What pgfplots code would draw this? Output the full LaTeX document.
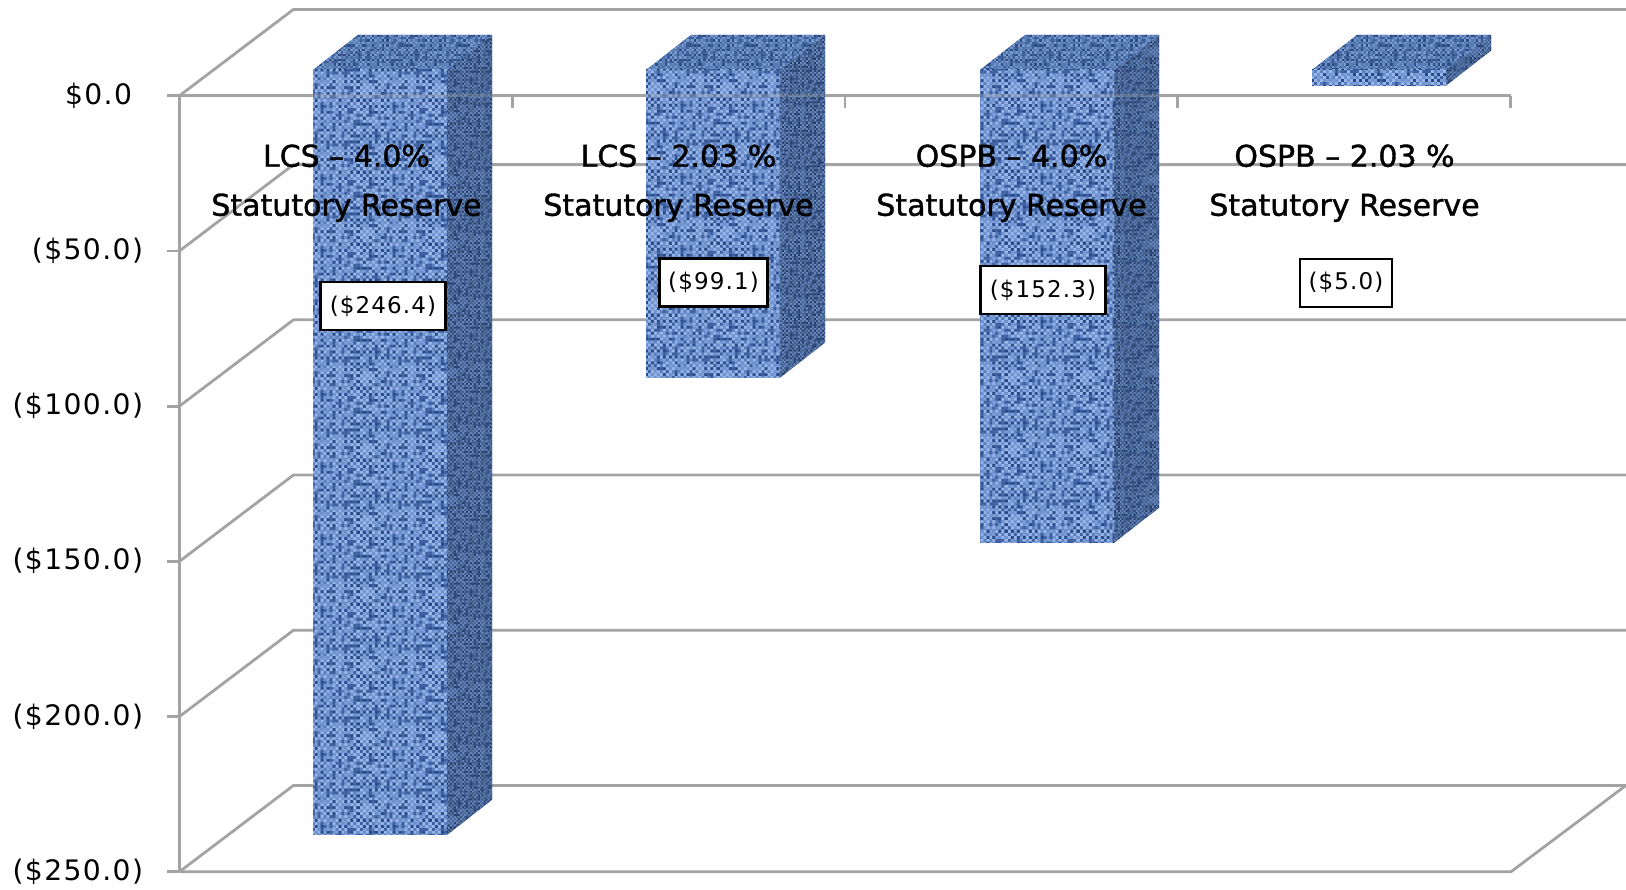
\documentclass[border=0pt]{standalone}
\usepackage{fontspec}
\usepackage{pgfplots}
\pgfplotsset{compat=1.18}
\usetikzlibrary{patterns}
\setmainfont{DejaVu Sans}
\newfontfamily\spaced[LetterSpace=5]{DejaVu Sans}
\newfontfamily\heavy[FakeBold=1.2]{DejaVu Sans}
\definecolor{gridgray}{HTML}{A3A3A3}
\definecolor{basefront}{HTML}{6787C2}
\definecolor{baseside}{HTML}{3F5C90}
\definecolor{basetop}{HTML}{4C6EA8}
% woven-cloth tiles for the three visible bar faces
\newcommand\declareweave[9]{% name, cell size (pt), dark a/b, mid a/b, light a/b, cells per tile
  \definecolor{#1da}{HTML}{#3}\definecolor{#1db}{HTML}{#4}%
  \definecolor{#1ma}{HTML}{#5}\definecolor{#1mb}{HTML}{#6}%
  \definecolor{#1la}{HTML}{#7}\definecolor{#1lb}{HTML}{#8}%
  \pgfmathtruncatemacro\lastcell{#9-1}%
  \edef\cellrange{0,...,\lastcell}%
  \expandafter\declareweavetile\expandafter{\cellrange}{#1}{#2}{#9}}
\newcommand\declareweavetile[4]{%
  \pgfdeclarepatterninherentlycolored{#2}{\pgfpointorigin}%
    {\pgfpoint{#4*#3pt}{#4*#3pt}}{\pgfpoint{#4*#3pt}{#4*#3pt}}{%
    \foreach \i in {#1}{\foreach \j in {#1}{%
      \pgfmathtruncatemacro\k{mod(\i,2)+mod(\j,2)}%
      \pgfmathtruncatemacro\h{mod(mod(\i*\i*3+\j*7,17)*mod(\j*\j*5+\i*11,13)+\i*\j,11)}%
      \ifnum\k=2 \ifnum\h<7 \def\c{#2da}\else\def\c{#2mb}\fi
      \else\ifnum\k=1 \ifnum\h<6 \def\c{#2la}\else\ifnum\h<9 \def\c{#2lb}\else\def\c{#2db}\fi\fi
      \else\ifnum\h<3 \def\c{#2db}\else\ifnum\h<7 \def\c{#2ma}\else\def\c{#2mb}\fi\fi\fi\fi
      \pgfsetfillcolor{\c}%
      \pgfpathrectangle{\pgfpoint{\i*#3pt}{\j*#3pt}}{\pgfpoint{#3pt}{#3pt}}%
      \pgfusepath{fill}}}}}
\declareweave{clothfront}{1.5}{284A8A}{3F60A0}{5C7FBE}{6E91CF}{98B6E8}{7EA0D8}{24}
\declareweave{clothside}{1}{253C68}{314C7E}{3C5A8C}{46659A}{6A88BA}{557499}{32}
\declareweave{clothtop}{1.2}{2F4C82}{3D5E96}{4B6EA8}{557AB3}{7597CB}{5F84BB}{24}
% a bar: front-left x (px), value
\newcommand\threedbar[2]{%
  \pgfmathsetmacro\xa{#1}\pgfmathsetmacro\xb{#1+134}%
  \pgfmathsetmacro\xc{#1+45}\pgfmathsetmacro\xd{#1+179}%
  \pgfmathsetmacro\yf{#2+8.28}\pgfmathsetmacro\yb{#2+19.56}%
  \addplot[draw=none,fill=baseside] coordinates {(\xb,8.28)(\xd,19.56)(\xd,\yb)(\xb,\yf)} --cycle;
  \addplot[draw=none,pattern=clothside] coordinates {(\xb,8.28)(\xd,19.56)(\xd,\yb)(\xb,\yf)} --cycle;
  \addplot[draw=none,fill=basetop] coordinates {(\xa,8.28)(\xb,8.28)(\xd,19.56)(\xc,19.56)} --cycle;
  \addplot[draw=none,pattern=clothtop] coordinates {(\xa,8.28)(\xb,8.28)(\xd,19.56)(\xc,19.56)} --cycle;
  \addplot[draw=none,fill=basefront] coordinates {(\xa,8.28)(\xb,8.28)(\xb,\yf)(\xa,\yf)} --cycle;
  \addplot[draw=none,pattern=clothfront] coordinates {(\xa,8.28)(\xb,8.28)(\xb,\yf)(\xa,\yf)} --cycle;
}
\begin{document}
\begin{tikzpicture}
\useasboundingbox (-89.75pt,-8.65pt) rectangle (723.25pt,435.85pt);
\begin{axis}[
  scale only axis, width=665.5pt, height=388pt,
  xmin=179.5, xmax=1510.5, ymin=-250, ymax=0, clip=false,
  axis x line*=top, axis y line*=left, no markers,
  axis line style={gridgray,line width=1.4pt},
  every tick/.style={gridgray,line width=1.4pt},
  major tick length=6pt,
  xtick={179.5,512.25,845,1177.75,1510.5}, xticklabels={},
  xtick align=inside,
  ytick={0,-50,-100,-150,-200,-250},
  yticklabels={\$0.0\phantom{)},(\$50.0),(\$100.0),(\$150.0),(\$200.0),(\$250.0)},
  ytick align=outside,
  yticklabel style={font=\spaced\fontsize{14.1}{16}\selectfont,text=black,inner sep=0pt,xshift=-12pt},
]
% back wall and side wall grid
\addplot[gridgray,line width=1.4pt] coordinates {(179.5,0)(293.5,27.8)(1626,27.8)};
\addplot[gridgray,line width=1.4pt] coordinates {(179.5,-50)(293.5,-22.2)(1626,-22.2)};
\addplot[gridgray,line width=1.4pt] coordinates {(179.5,-100)(293.5,-72.2)(1626,-72.2)};
\addplot[gridgray,line width=1.4pt] coordinates {(179.5,-150)(293.5,-122.2)(1626,-122.2)};
\addplot[gridgray,line width=1.4pt] coordinates {(179.5,-200)(293.5,-172.2)(1626,-172.2)};
\addplot[gridgray,line width=1.4pt] coordinates {(179.5,-250)(293.5,-222.2)(1626,-222.2)(1511,-250)(179.5,-250)};
\threedbar{313}{-246.4}
\threedbar{646}{-99.1}
\threedbar{980}{-152.3}
\threedbar{1312}{-5.0}
\addplot[gridgray,line width=1.4pt,opacity=.35] coordinates {(179.5,0)(1510.5,0)};
\begin{scope}[every node/.style={align=center,font=\heavy\fontsize{15}{24.5}\selectfont,text=black}]
\node at (axis cs:346.5,-28.2) {LCS – 4.0\%\\Statutory Reserve};
\node at (axis cs:678.5,-28.2) {LCS – 2.03 \%\\Statutory Reserve};
\node at (axis cs:1011.5,-28.2) {OSPB – 4.0\%\\Statutory Reserve};
\node at (axis cs:1344.5,-28.2) {OSPB – 2.03 \%\\Statutory Reserve};
\end{scope}
\begin{scope}[every node/.style={draw=black,line width=1.1pt,fill=white,inner sep=0pt,minimum height=24pt,font=\spaced\fontsize{11.5}{14}\selectfont,text=black}]
\node[minimum width=62.5pt] at (axis cs:383,-67.75) {(\$246.4)};
\node[minimum width=54pt] at (axis cs:713.5,-60.2) {(\$99.1)};
\node[minimum width=62.5pt] at (axis cs:1043,-62.6) {(\$152.3)};
\node[minimum width=46pt] at (axis cs:1346,-60.3) {(\$5.0)};
\end{scope}
\end{axis}
\end{tikzpicture}
\end{document}
